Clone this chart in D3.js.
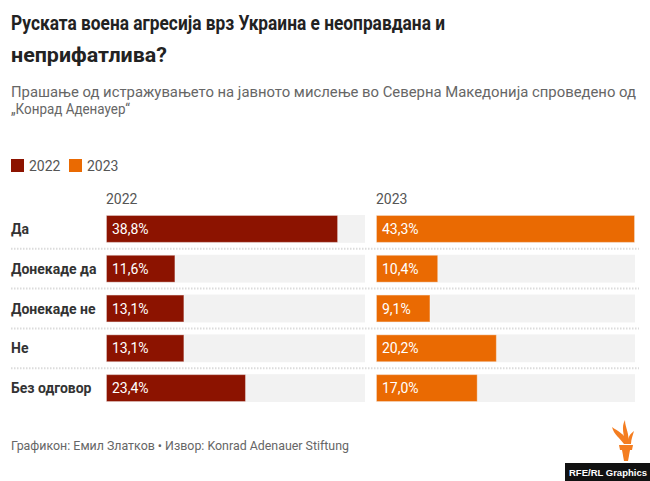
<!DOCTYPE html>
<html>
<head>
<meta charset="utf-8">
<script src="https://cdn.jsdelivr.net/npm/d3@7"></script>
<style>
  html, body { margin: 0; padding: 0; background: #fff; }
  svg { display: block; font-family: Roboto, "Noto Sans", sans-serif; }
</style>
</head>
<body>
<svg id="chart" width="650" height="481"></svg>
<script>
const categories = ["Да", "Донекаде да", "Донекаде не", "Не", "Без одговор"];
const years = ["2022", "2023"];
const values2022 = [38.8, 11.6, 13.1, 13.1, 23.4];
const values2023 = [43.3, 10.4, 9.1, 20.2, 17.0];
const colors = ["#8c1300", "#ea6a02"];

const title = ["Руската воена агресија врз Украина е неоправдана и", "неприфатлива?"];
const subtitle = ["Прашање од истражувањето на јавното мислење во Северна Македонија спроведено од", "„Конрад Аденауер“"];
const footer = "Графикон: Емил Златков • Извор: Konrad Adenauer Stiftung";

const svg = d3.select("#chart");
const fmt = v => d3.format(".1f")(v).replace(".", ",") + "%";

// Title (condensed face in the original: fit measured widths)
const titleWidths = [434, 156];
svg.append("g").selectAll("text").data(title).join("text")
  .attr("x", 11).attr("y", (d, i) => 30 + i * 32)
  .attr("font-size", 21).attr("font-weight", 700).attr("fill", "#222")
  .attr("textLength", (d, i) => titleWidths[i]).attr("lengthAdjust", "spacingAndGlyphs")
  .text(d => d);

const subWidths = [625, 119];
svg.append("g").selectAll("text").data(subtitle).join("text")
  .attr("x", 11).attr("y", (d, i) => 97 + i * 17)
  .attr("font-size", 15).attr("fill", "#666")
  .attr("textLength", (d, i) => subWidths[i]).attr("lengthAdjust", "spacingAndGlyphs")
  .text(d => d);

// Legend
const leg = svg.append("g").selectAll("g").data(years).join("g")
  .attr("transform", (d, i) => `translate(${11 + i * 58},159)`);
leg.append("rect").attr("width", 13).attr("height", 13).attr("fill", (d, i) => colors[i]);
leg.append("text").attr("x", 18).attr("y", 12).attr("font-size", 14).attr("fill", "#555").text(d => d);

// Scales
const y = d3.scaleBand().domain(categories).range([215, 402]).paddingInner(0.3).paddingOuter(0);
const x = d3.scaleLinear().domain([0, 43.3]).range([0, 259]);
const panelX = d3.scaleOrdinal().domain(years).range([106, 376]);

// Separators
const step = y.step();
svg.append("g").selectAll("line").data(categories.slice(0, -1)).join("line")
  .attr("x1", 11).attr("x2", 639)
  .attr("y1", d => y(d) + y.bandwidth() + (step - y.bandwidth()) / 2)
  .attr("y2", d => y(d) + y.bandwidth() + (step - y.bandwidth()) / 2)
  .attr("stroke", "#dcdcdc").attr("stroke-width", 2).attr("stroke-dasharray", "1.5,1.5");

// Row labels
svg.append("g").selectAll("text").data(categories).join("text")
  .attr("x", 11).attr("y", d => y(d) + y.bandwidth() / 2 + 5)
  .attr("font-size", 14).attr("font-weight", 700).attr("fill", "#333")
  .text(d => d);

// Panels
const series = [values2022, values2023];
years.forEach((yr, k) => {
  const g = svg.append("g").attr("transform", `translate(${panelX(yr)},0)`);
  g.append("text").attr("x", 0).attr("y", 204).attr("font-size", 14).attr("fill", "#555").text(yr);
  g.selectAll("rect.bg").data(categories).join("rect").attr("class", "bg")
    .attr("x", 0).attr("y", d => y(d)).attr("width", x(43.3)).attr("height", y.bandwidth())
    .attr("fill", "#f2f2f2");
  const data = categories.map((c, i) => ({ c, v: series[k][i] }));
  g.selectAll("rect.bar").data(data).join("rect").attr("class", "bar")
    .attr("x", 0.5).attr("y", d => y(d.c) + 0.5)
    .attr("width", d => x(d.v) - 1).attr("height", y.bandwidth() - 1)
    .attr("fill", colors[k]).attr("stroke", "rgba(255,255,255,0.35)").attr("stroke-width", 1);
  g.selectAll("text.val").data(data).join("text").attr("class", "val")
    .attr("x", 6).attr("y", d => y(d.c) + y.bandwidth() / 2 + 5)
    .attr("font-size", 14).attr("fill", "#fff").text(d => fmt(d.v));
});

// Footer
svg.append("text").attr("x", 11).attr("y", 450).attr("font-size", 13).attr("fill", "#666")
  .attr("textLength", 338).attr("lengthAdjust", "spacingAndGlyphs").text(footer);

// Logo
const logo = svg.append("g").attr("transform", "translate(565,419)");
const orange = "#f47d20";
logo.append("path").attr("fill", orange).attr("d", "M54,26 L68,26 L67,31 L55,31 Z");
logo.append("path").attr("fill", orange).attr("d", "M57,31 L65,31 L63,42 L59,42 Z");
logo.append("path").attr("fill", orange).attr("d", "M47,8 C49,16 55,19 59,25 L63,25 C60,14 52,12 47,8 Z");
logo.append("path").attr("fill", orange).attr("d", "M60,1 C56,8 59,15 60,25 L63,25 C65,14 60,9 60,1 Z");
logo.append("path").attr("fill", orange).attr("d", "M69,12 C65,15 62,19 63,25 L66,25 C66,20 68,16 69,12 Z");
logo.append("rect").attr("x", 0).attr("y", 44).attr("width", 85).attr("height", 18).attr("fill", "#111");
logo.append("text").attr("x", 4).attr("y", 56.5)
  .attr("font-family", "Liberation Sans, Arial, sans-serif").attr("font-size", 9.5)
  .attr("font-weight", 700).attr("fill", "#fff").text("RFE/RL Graphics");
</script>
</body>
</html>
